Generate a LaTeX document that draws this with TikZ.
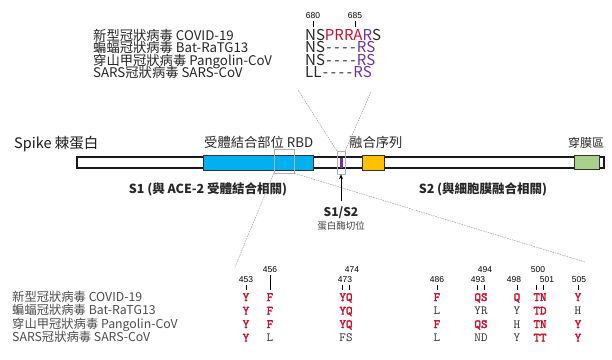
\documentclass[tikz,border=0pt]{standalone}
\usepackage{fontspec}
\setmainfont{Noto Sans CJK TC}
\newfontfamily\numf{Liberation Sans}
\newfontfamily\resbold{lmmono10-regular}[Extension=.otf, FakeBold=2.2]
\newfontfamily\resreg{lmmono10-regular}[Extension=.otf]
\usetikzlibrary{arrows.meta}
\definecolor{rred}{HTML}{C8102E}
\definecolor{ppl}{HTML}{7030A0}
\definecolor{rbdblue}{HTML}{00B0F0}
\definecolor{fusy}{HTML}{FFC000}
\definecolor{tmgreen}{HTML}{A9D18E}
\newcommand\seqdash{\makebox[8pt]{-}}
\begin{document}
\begin{tikzpicture}[x=1pt,y=-1pt,
  lbl/.style={inner sep=0pt, anchor=base west, text height=9pt, text depth=1.5pt, font=\fontsize{13.3}{14}\selectfont, text=black!85},
  blbl/.style={inner sep=0pt, anchor=base west, text height=9pt, text depth=1.5pt, font=\fontsize{12.3}{13}\selectfont, text=black!70},
  seqt/.style={inner sep=0pt, anchor=base west, text height=9pt, text depth=1pt, font=\fontsize{15}{16}\selectfont, text=black!85},
  num/.style={inner sep=0pt, anchor=base, font=\numf\fontsize{8.5}{9}\selectfont},
  res/.style={inner sep=0pt, anchor=base, text height=7pt, text depth=1pt, font=\resbold\fontsize{12.5}{12}\selectfont, text=rred},
  resk/.style={inner sep=0pt, anchor=base, text height=7pt, text depth=1pt, font=\resreg\fontsize{12.5}{12}\selectfont, text=black!80},
  zoomline/.style={draw=black!40, line width=0.5pt, dash pattern=on 1.5pt off 1pt},
  seg/.style={draw=black!80, line width=0.6pt, inner sep=0pt, minimum height=15pt},
  tick/.style={line width=0.6pt}
]
\useasboundingbox (0,0) rectangle (612,359);

% ---------- top alignment (furin site) ----------
\node[num] (n680) at (313,18) {680};
\node[num] (n685) at (355,18) {685};
\draw[tick] (313,21) -- (313,27);
\draw[tick] (355,21) -- (355,27);

\node[lbl] (t1) at (93,40) {新型冠狀病毒 COVID-19};
\node[lbl] (t2) at (93,52.5) {蝙蝠冠狀病毒 Bat-RaTG13};
\node[lbl] (t3) at (93,65) {穿山甲冠狀病毒 Pangolin-CoV};
\node[lbl] (t4) at (93,77.5) {SARS冠狀病毒 SARS-CoV};

\node[seqt] (s1) at (305,40) {NS\textcolor{rred}{PRRA}\textcolor{ppl}{R}S};
\node[seqt] (s2) at (305,52.5) {NS\seqdash\seqdash\seqdash\seqdash\textcolor{ppl}{RS}};
\node[seqt] (s3) at (305,65) {NS\seqdash\seqdash\seqdash\seqdash\textcolor{ppl}{RS}};
\node[seqt] (s4) at (305,77.5) {LL\seqdash\seqdash\seqdash\seqdash\textcolor{ppl}{RS}};

% ---------- spike bar ----------
\node[inner sep=0pt, anchor=base west, font=\fontsize{14.5}{15}\selectfont, text=black!90] (spk) at (14,148) {Spike 棘蛋白};
\node[lbl] (rbdl) at (204,147.5) {受體結合部位 RBD};
\node[lbl] (fusl) at (349,147.5) {融合序列};
\node[lbl, font=\fontsize{12}{13}\selectfont] (tml) at (568,147.5) {穿膜區};

\node[draw=black!90, line width=1.1pt, fill=white, inner sep=0pt, minimum width=527pt, minimum height=11pt] (bar) at (340.5,162.5) {};
\node[seg, fill=rbdblue, minimum width=110pt] (rbd) at (258,162.5) {};
\node[seg, fill=fusy, minimum width=22pt] (fus) at (373,162.5) {};
\node[seg, fill=tmgreen, minimum width=25pt, minimum height=14pt] (tm) at (586.5,162) {};
\node[fill=ppl, inner sep=0pt, minimum width=3pt, minimum height=10pt] (fur) at (341,163) {};

\node[draw=black!30, line width=0.5pt, inner sep=0pt, minimum width=20pt, minimum height=24pt] (rbdz) at (284,161) {};
\node[draw=black!30, line width=0.5pt, inner sep=0pt, minimum width=8pt, minimum height=23pt] (cut) at (341,162.5) {};

\node[inner sep=0pt, anchor=base, font=\bfseries\fontsize{12.5}{13}\selectfont, text=black!85] (s1l) at (208,193) {S1 (與 ACE-2 受體結合相關)};
\node[inner sep=0pt, anchor=base, font=\bfseries\fontsize{12.5}{13}\selectfont, text=black!85] (s2l) at (483,193) {S2 (與細胞膜融合相關)};

\node[inner sep=0pt, anchor=base, font=\bfseries\fontsize{12}{13}\selectfont, text=black!85] (s12) at (341,216.5) {S1/S2};
\node[inner sep=0pt, anchor=base, font=\fontsize{9.5}{10}\selectfont, text=black!75] (prot) at (341,229.5) {蛋白酶切位};

\coordinate (arrt) at (341,201);
\draw[line width=0.9pt, -{Stealth[length=5pt,width=4pt]}] (arrt) -- (cut.south);

% zoom connectors
\coordinate (tl) at (298,90);
\coordinate (tr) at (371,92);
\coordinate (bl) at (235,267);
\coordinate (br) at (585,262);
\draw[zoomline] (cut.north west) -- (tl);
\draw[zoomline] (cut.north east) -- (tr);
\draw[zoomline] (rbdz.south west) -- (bl);
\draw[zoomline] (rbdz.south east) -- (br);

% ---------- bottom RBD table ----------
\node[num] at (246,282) {453};
\node[num] at (270,272) {456};
\node[num] at (345,282) {473};
\node[num] at (352,272) {474};
\node[num] at (437,282) {486};
\node[num] at (478,282) {493};
\node[num] at (485,272) {494};
\node[num] at (514,282) {498};
\node[num] at (538,272) {500};
\node[num] at (547,282) {501};
\node[num] at (579,282) {505};
\foreach \x in {246,342.5,349.5,437,477.5,484.5,517,536.5,543.5,578} \draw[tick] (\x,285) -- (\x,290);
\draw[tick] (270,275) -- (270,290);

\node[blbl] (b1) at (12,301) {新型冠狀病毒 COVID-19};
\node[blbl] (b2) at (12,314.5) {蝙蝠冠狀病毒 Bat-RaTG13};
\node[blbl] (b3) at (12,328) {穿山甲冠狀病毒 Pangolin-CoV};
\node[blbl] (b4) at (12,341.5) {SARS冠狀病毒 SARS-CoV};

% row 1
\node[res] at (246,301) {Y};  \node[res] at (270,301) {F};  \node[res] at (346,301) {YQ};
\node[res] at (437,301) {F};  \node[res] at (481,301) {QS}; \node[res] at (517,301) {Q};
\node[res] at (540,301) {TN}; \node[res] at (578,301) {Y};
% row 2
\node[res] at (246,314.5) {Y};  \node[res] at (270,314.5) {F};  \node[res] at (346,314.5) {YQ};
\node[resk] at (437,314.5) {L}; \node[resk] at (481,314.5) {YR}; \node[resk] at (517,314.5) {Y};
\node[res] at (540,314.5) {TD}; \node[resk] at (578,314.5) {H};
% row 3
\node[res] at (246,328) {Y};  \node[res] at (270,328) {F};  \node[res] at (346,328) {YQ};
\node[res] at (437,328) {F};  \node[res] at (481,328) {QS}; \node[resk] at (517,328) {H};
\node[res] at (540,328) {TN}; \node[res] at (578,328) {Y};
% row 4
\node[res] at (246,341.5) {Y};  \node[resk] at (270,341.5) {L};  \node[resk] at (346,341.5) {FS};
\node[resk] at (437,341.5) {L}; \node[resk] at (481,341.5) {ND}; \node[resk] at (517,341.5) {Y};
\node[res] at (540,341.5) {TT}; \node[res] at (578,341.5) {Y};
\end{tikzpicture}
\end{document}
